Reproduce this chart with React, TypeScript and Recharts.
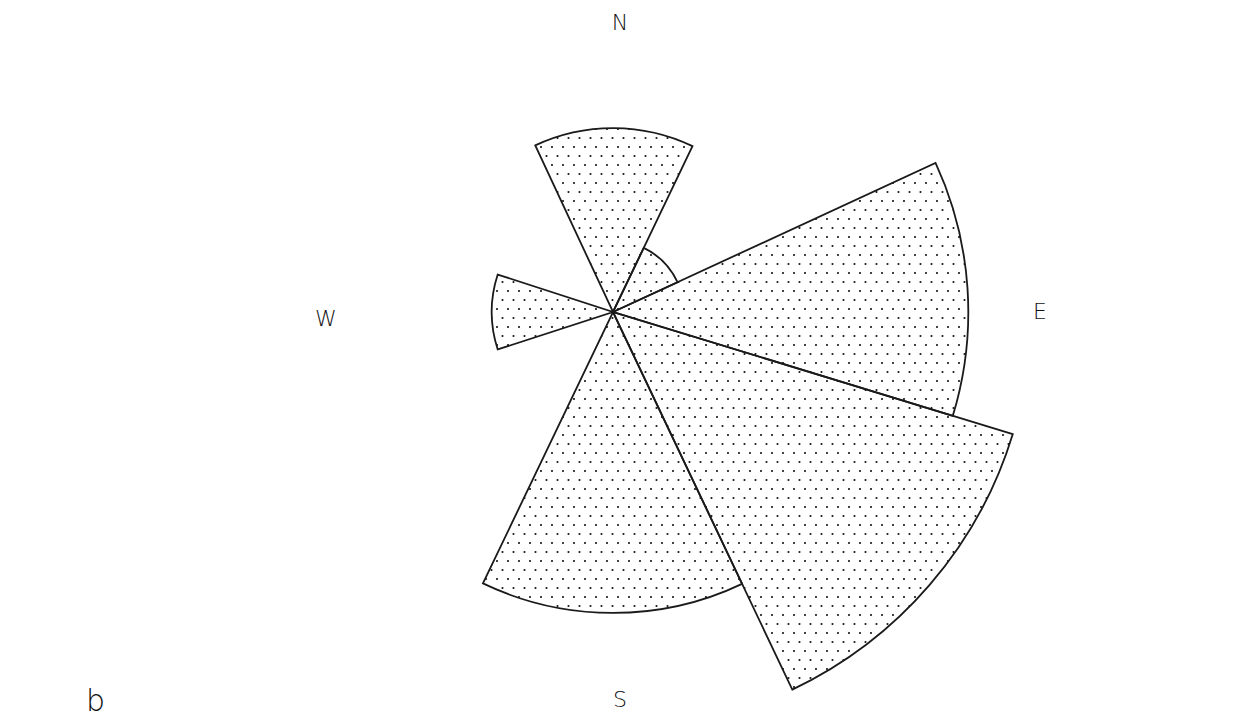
import { PieChart, Pie, Cell } from 'recharts';

// rose petals: bin edges as compass bearings (deg, clockwise from N) and frequency
const sectors = ['N', 'NE', 'E', 'SE', 'S', 'W'];
const binStart = [-25, 25.6, 65.2, 107, 154.6, 252];
const binEnd = [25.6, 65.2, 107, 154.6, 205.6, 288];
const frequency = [8.8, 3.4, 17.0, 20.0, 14.4, 5.8];

const compassLabels = ['N', 'E', 'S', 'W'];
const compassPos = [
  [620, 22],
  [1040, 311],
  [620, 699],
  [326, 318],
];

const WIDTH = 1255;
const HEIGHT = 721;
const CX = 613;
const CY = 312;
const MAX_R = 418;
const maxFreq = Math.max(...frequency);

const toAngle = (bearing: number) => 90 - bearing;
const radiusOf = (v: number) => (v / maxFreq) * MAX_R;

export default function App() {
  return (
    <div style={{ position: 'absolute', left: 0, top: 0, width: WIDTH, height: HEIGHT, background: '#fff' }}>
      <PieChart width={WIDTH} height={HEIGHT} margin={{ top: 0, right: 0, bottom: 0, left: 0 }}>
        <defs>
          <pattern id="dots" width="11" height="18" patternUnits="userSpaceOnUse">
            <circle cx="2" cy="3" r="1.05" fill="#111" />
            <circle cx="7.5" cy="12" r="1.05" fill="#111" />
          </pattern>
        </defs>
        {sectors.map((name, i) => (
          <Pie
            key={name}
            data={[{ name, value: frequency[i] }]}
            dataKey="value"
            cx={CX}
            cy={CY}
            innerRadius={0}
            outerRadius={radiusOf(frequency[i])}
            startAngle={toAngle(binStart[i])}
            endAngle={toAngle(binEnd[i])}
            paddingAngle={0}
            isAnimationActive={false}
            label={false}
            labelLine={false}
          >
            <Cell fill="url(#dots)" stroke="#1a1a1a" strokeWidth={1.8} strokeLinejoin="miter" />
          </Pie>
        ))}
        {compassLabels.map((t, i) => (
          <text
            key={t}
            x={compassPos[i][0]}
            y={compassPos[i][1]}
            textAnchor="middle"
            dominantBaseline="central"
            fontFamily="DejaVu Sans, sans-serif"
            fontWeight={200}
            fontSize={22}
            fill="#111"
          >
            {t}
          </text>
        ))}
        <text x={86} y={711} fontFamily="DejaVu Sans, sans-serif" fontWeight={200} fontSize={30} fill="#111">
          b
        </text>
      </PieChart>
    </div>
  );
}
